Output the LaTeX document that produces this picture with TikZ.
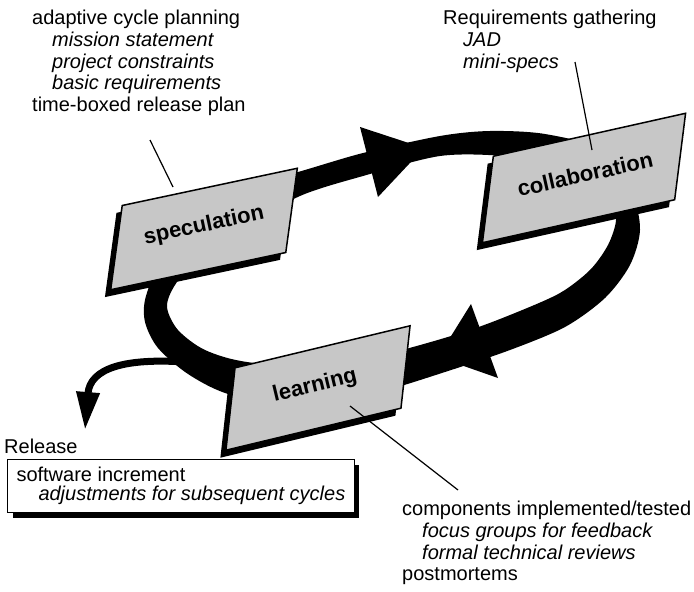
\documentclass[tikz,border=0pt]{standalone}
\usepackage{fontspec}
\setmainfont{Liberation Sans}
\usetikzlibrary{arrows.meta, shadows}

\begin{document}
\begin{tikzpicture}[x=1pt, y=-1pt,
    loopband/.style={fill=black, even odd rule},
    panel/.style={fill=black!22, draw=black, line width=1.5pt},
    panel label/.style={font=\bfseries\fontsize{22}{22}\selectfont, text=black, inner sep=0pt},
    note/.style={font=\fontsize{20}{21.75}\selectfont, align=left, inner sep=0pt, anchor=north west},
    pointer/.style={line width=1.2pt},
    relbox/.style={draw, line width=1pt, fill=white, align=left,
        inner xsep=9pt, inner ysep=6pt, minimum height=53pt, anchor=north west,
        font=\fontsize{20}{19.5}\selectfont,
        drop shadow={opacity=1, fill=black, shadow xshift=5pt, shadow yshift=-5pt}}]
\def\ind{\hspace*{20pt}}

\useasboundingbox (0,0) rectangle (694,592);

% release arrow, leaving the loop
\coordinate (rel from) at (185,362);
\coordinate (rel to) at (85,430);
\draw[line width=7pt, -{Triangle[length=38pt, width=22pt]}]
    (rel from) .. controls (125,358) and (90,368) .. (rel to);

% the cycle
\fill[loopband]
    plot[smooth cycle] coordinates {(225,192) (298,172) (363,153) (440,136) (490,131)
        (545,134) (600,150) (632,195) (640,230) (630,265) (605,298) (565,327)
        (510,350) (445,372) (380,392) (300,410) (228,394) (188,374) (158,348)
        (145,322) (146,296) (165,255)}
    plot[smooth cycle] coordinates {(240,230) (300,196) (363,176) (440,156) (505,156)
        (565,165) (610,200) (616,220) (608,245) (590,270) (560,293) (515,313)
        (470,330) (413,347) (330,368) (247,362) (205,350) (178,330) (167,307)
        (175,285) (200,255)};
\fill (360,127) -- (378,197) -- (424,148) -- cycle;
\fill (471,304) -- (498,378) -- (438,357) -- cycle;

% speculation
\begin{scope}[shift={(204,229)}, rotate=12, xslant=.36]
  \fill (-94.5,-34) rectangle (84.5,46);
  \filldraw[panel] (-89.5,-40) rectangle (89.5,40);
\end{scope}
\node[panel label, rotate=12] (spec) at (204,226) {speculation};

% collaboration
\begin{scope}[shift={(584,178)}, rotate=12.6, xslant=.36]
  \fill (-103.5,-35) rectangle (93.5,47);
  \filldraw[panel] (-98.5,-41) rectangle (98.5,41);
\end{scope}
\node[panel label, rotate=12.6] (collab) at (585,174) {collaboration};

% learning
\begin{scope}[shift={(318,388)}, rotate=13.5, xslant=.36]
  \fill (-95,-33) rectangle (85,45);
  \filldraw[panel] (-90,-39) rectangle (90,39);
\end{scope}
\node[panel label, rotate=13.5] (learn) at (315,386) {learning};

% notes
\node[note] (plan) at (32,10) {adaptive cycle planning\\
    \ind\textit{mission statement}\\
    \ind\textit{project constraints}\\
    \ind\textit{basic requirements}\\
    time-boxed release plan};
\node[note] (gather) at (443,10) {Requirements gathering\\
    \ind\textit{JAD}\\
    \ind\textit{mini-specs}};
\node[note] (tested) at (402,501) {components implemented/tested\\
    \ind\textit{focus groups for feedback}\\
    \ind\textit{formal technical reviews}\\
    postmortems};
\node[note] (release) at (4,439) {Release};
\node[relbox] (incr) at (7,459) {software increment\\
    \hspace*{22pt}\textit{adjustments for subsequent cycles}};

% pointers
\coordinate (plan pin) at (150,140);
\coordinate (spec pin) at (173,187);
\coordinate (gather pin) at (575,62);
\coordinate (collab pin) at (592,150);
\coordinate (tested pin) at (458,490);
\coordinate (learn pin) at (350,406);
\draw[pointer] (plan pin) -- (spec pin);
\draw[pointer] (gather pin) -- (collab pin);
\draw[pointer] (tested pin) -- (learn pin);
\end{tikzpicture}
\end{document}
